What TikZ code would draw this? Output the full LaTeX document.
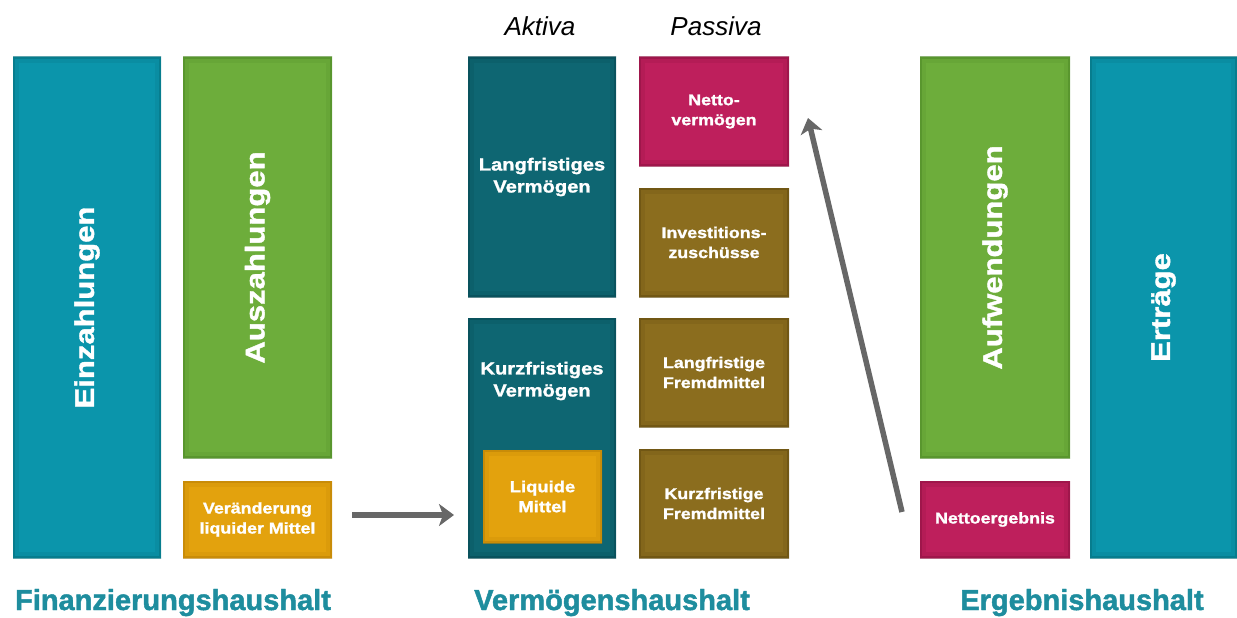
\documentclass[tikz,border=0pt]{standalone}
\usepackage{fontspec}
\setmainfont{Liberation Sans}
\newfontfamily\wide{Liberation Sans}[FakeStretch=1.15, BoldFeatures={FakeBold=1.4}]
\newfontfamily\heavy{Liberation Sans}[BoldFeatures={FakeBold=1.6}]
\usetikzlibrary{arrows.meta}
\definecolor{cteal}{HTML}{0B95AB}
\definecolor{ctealB}{HTML}{06707F}
\definecolor{cgreen}{HTML}{6DAD3B}
\definecolor{cgreenB}{HTML}{4F8A28}
\definecolor{cdteal}{HTML}{0E6672}
\definecolor{cdtealB}{HTML}{084852}
\definecolor{cmag}{HTML}{BE1F5C}
\definecolor{cmagB}{HTML}{8E1242}
\definecolor{colive}{HTML}{8B6D1E}
\definecolor{coliveB}{HTML}{634C10}
\definecolor{corange}{HTML}{E3A20D}
\definecolor{corangeB}{HTML}{BC8106}
\definecolor{clabel}{HTML}{1E8D9E}
\definecolor{carrow}{HTML}{676767}
\tikzset{
  bx/.style 2 args={anchor=north west, inner sep=0pt, outer sep=0pt, fill=#1,
    path picture={
      \draw[#2, line width=12pt, opacity=0.2] (path picture bounding box.south west) rectangle (path picture bounding box.north east);
      \draw[#2, line width=4pt, opacity=0.55] (path picture bounding box.south west) rectangle (path picture bounding box.north east);
    }},
  vtxt/.style={rotate=90, text=white, font=\wide\bfseries\fontsize{27}{27}\selectfont},
  btxt/.style={text=white, align=center, font=\wide\bfseries\fontsize{15.5}{20}\selectfont},
  atxt/.style={text=white, align=center, font=\wide\bfseries\fontsize{17.5}{22}\selectfont},
  hdr/.style={font=\itshape\fontsize{26}{26}\selectfont, anchor=base},
  foot/.style={text=clabel, anchor=base, font=\heavy\bfseries\fontsize{29}{29}\selectfont},
  arr/.style={draw=carrow, line width=5.5pt, -{Stealth[length=15pt,width=22pt,inset=4pt]}}
}
\begin{document}
\begin{tikzpicture}[x=1pt,y=-1pt]
\useasboundingbox (0,0) rectangle (1237,618);
% Finanzierungshaushalt
\node[bx={cteal}{ctealB}, minimum width=148pt, minimum height=501pt] (ein) at (13,57) {};
\node[vtxt] at (ein.center) {Einzahlungen};
\node[bx={cgreen}{cgreenB}, minimum width=149pt, minimum height=401pt] (aus) at (183,57) {};
\node[vtxt] at (aus.center) {Auszahlungen};
\node[bx={corange}{corangeB}, minimum width=149pt, minimum height=77pt, btxt] (ver) at (183,481) {Veränderung\\liquider Mittel};
% Vermögenshaushalt
\node[hdr] (akt) at (540,36) {Aktiva};
\node[hdr] (pas) at (716,36) {Passiva};
\node[bx={cdteal}{cdtealB}, minimum width=148pt, minimum height=240pt, atxt] (lv) at (468,57) {Langfristiges\\Vermögen};
\node[bx={cdteal}{cdtealB}, minimum width=148pt, minimum height=240pt] (kv) at (468,318) {};
\node[atxt] (kvt) at (542,381) {Kurzfristiges\\Vermögen};
\node[bx={corange}{corangeB}, minimum width=119pt, minimum height=93pt, btxt, font=\wide\bfseries\fontsize{16}{20}\selectfont] (lm) at (483,450) {Liquide\\Mittel};
\node[bx={cmag}{cmagB}, minimum width=150pt, minimum height=109pt, btxt] (nv) at (639,57) {Netto-\\vermögen};
\node[bx={colive}{coliveB}, minimum width=150pt, minimum height=109pt, btxt] (iz) at (639,188) {Investitions-\\zuschüsse};
\node[bx={colive}{coliveB}, minimum width=150pt, minimum height=109pt, btxt] (lf) at (639,318) {Langfristige\\Fremdmittel};
\node[bx={colive}{coliveB}, minimum width=150pt, minimum height=109pt, btxt] (kf) at (639,449) {Kurzfristige\\Fremdmittel};
% Ergebnishaushalt
\node[bx={cgreen}{cgreenB}, minimum width=150pt, minimum height=401pt] (auf) at (920,57) {};
\node[vtxt] at (auf.center) {Aufwendungen};
\node[bx={cmag}{cmagB}, minimum width=150pt, minimum height=77pt, btxt] (ne) at (920,481) {Nettoergebnis};
\node[bx={cteal}{ctealB}, minimum width=147pt, minimum height=501pt] (ert) at (1090,57) {};
\node[vtxt] at (ert.center) {Erträge};
% footers
\node[foot] (f1) at (173,610) {Finanzierungshaushalt};
\node[foot] (f2) at (612,610) {Vermögenshaushalt};
\node[foot] (f3) at (1082,610) {Ergebnishaushalt};
% arrows
\draw[arr, shorten <=20pt, shorten >=14pt] ([yshift=4.5pt]ver.east) -- ([yshift=4.5pt]ver.east -| kv.west);
\coordinate (d1) at (902,512);
\coordinate (d2) at (808,118);
\draw[arr] (d1) -- (d2);
\end{tikzpicture}
\end{document}
